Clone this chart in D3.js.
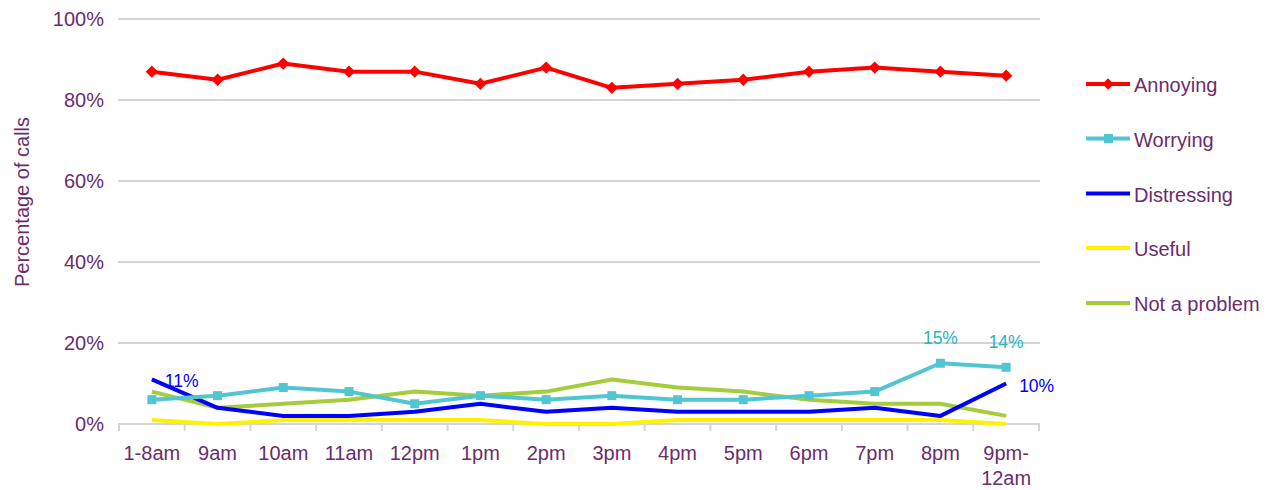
<!DOCTYPE html>
<html>
<head>
<meta charset="utf-8">
<script src="https://cdn.jsdelivr.net/npm/d3@7"></script>
<style>
  html, body { margin: 0; padding: 0; background: #fff; }
  svg { display: block; font-family: "Liberation Sans", Arial, sans-serif; }
</style>
</head>
<body>
<svg id="chart" width="1278" height="490"></svg>
<script>
// Time-of-day categories
const categories = ["1-8am", "9am", "10am", "11am", "12pm", "1pm", "2pm", "3pm", "4pm", "5pm", "6pm", "7pm", "8pm", "9pm-12am"];

// Percentage of calls by reaction
const annoying      = [87, 85, 89, 87, 87, 84, 88, 83, 84, 85, 87, 88, 87, 86];
const worrying      = [6, 7, 9, 8, 5, 7, 6, 7, 6, 6, 7, 8, 15, 14];
const distressing   = [11, 4, 2, 2, 3, 5, 3, 4, 3, 3, 3, 4, 2, 10];
const useful        = [1, 0, 1, 1, 1, 1, 0, 0, 1, 1, 1, 1, 1, 0];
const notAProblem   = [8, 4, 5, 6, 8, 7, 8, 11, 9, 8, 6, 5, 5, 2];

const yTicks = [0, 20, 40, 60, 80, 100];

const textColor = "#6B2C6E";
const gridColor = "#D4D4D4";

const series = [
  { name: "Annoying",      values: annoying,    color: "#FF0000", labelColor: "#FF0000", marker: "diamond" },
  { name: "Worrying",      values: worrying,    color: "#52C5D2", labelColor: "#2CB3C3", marker: "square" },
  { name: "Distressing",   values: distressing, color: "#0000FF", labelColor: "#0000FF", marker: null },
  { name: "Useful",        values: useful,      color: "#FFF200", labelColor: "#FFF200", marker: null },
  { name: "Not a problem", values: notAProblem, color: "#A4CC3C", labelColor: "#A4CC3C", marker: null }
];

// Values that carry a printed label: [series index, category index, placement]
const labelled = [
  { s: 2, i: 0,  pos: "right" },
  { s: 1, i: 12, pos: "above" },
  { s: 1, i: 13, pos: "above" },
  { s: 2, i: 13, pos: "right" }
];

const svg = d3.select("#chart");

const x = d3.scaleBand().domain(categories).range([119, 1039]).paddingInner(0).paddingOuter(0);
const y = d3.scaleLinear().domain([0, 100]).range([424, 19]);
const cx = c => x(c) + x.bandwidth() / 2;

// Horizontal gridlines
svg.append("g").selectAll("line").data(yTicks).join("line")
  .attr("x1", 118).attr("x2", 1040)
  .attr("y1", d => y(d)).attr("y2", d => y(d))
  .attr("stroke", gridColor).attr("stroke-width", 2);

// Y-axis tick labels
svg.append("g").selectAll("text").data(yTicks).join("text")
  .attr("x", 104).attr("y", d => y(d))
  .attr("text-anchor", "end").attr("dominant-baseline", "central")
  .attr("font-size", 20).attr("fill", textColor)
  .text(d => d + "%");

// Y-axis title
svg.append("text")
  .attr("transform", "translate(22,202) rotate(-90)")
  .attr("text-anchor", "middle").attr("dominant-baseline", "central")
  .attr("font-size", 20).attr("fill", textColor)
  .text("Percentage of calls");

// X-axis tick marks at category boundaries
const bounds = categories.map(c => x(c)).concat([x(categories[categories.length - 1]) + x.bandwidth()]);
svg.append("g").selectAll("line").data(bounds).join("line")
  .attr("x1", d => d).attr("x2", d => d)
  .attr("y1", y(0)).attr("y2", y(0) + 7)
  .attr("stroke", gridColor).attr("stroke-width", 2);

// X-axis category labels (split on the hyphen for the last one)
const xl = svg.append("g").selectAll("text").data(categories).join("text")
  .attr("x", d => cx(d)).attr("y", 460)
  .attr("text-anchor", "middle")
  .attr("font-size", 20).attr("fill", textColor);
xl.each(function(d) {
  const t = d3.select(this);
  if (d === "9pm-12am") {
    t.append("tspan").attr("x", cx(d)).attr("dy", 0).text("9pm-");
    t.append("tspan").attr("x", cx(d)).attr("dy", 25).text("12am");
  } else {
    t.text(d);
  }
});

// Lines, drawn from the bottom of the legend upward so the key series sit on top
const line = d3.line().x((v, i) => cx(categories[i])).y(v => y(v));
const drawOrder = [4, 3, 2, 1, 0];
drawOrder.forEach(si => {
  const s = series[si];
  svg.append("path")
    .datum(s.values)
    .attr("d", line)
    .attr("fill", "none")
    .attr("stroke", s.color)
    .attr("stroke-width", 4)
    .attr("stroke-linejoin", "round");
  if (s.marker === "diamond") {
    svg.append("g").selectAll("path").data(s.values).join("path")
      .attr("d", d3.symbol(d3.symbolSquare, 76))
      .attr("transform", (v, i) => `translate(${cx(categories[i])},${y(v)}) rotate(45)`)
      .attr("fill", s.color);
  } else if (s.marker === "square") {
    svg.append("g").selectAll("rect").data(s.values).join("rect")
      .attr("x", (v, i) => cx(categories[i]) - 4.5)
      .attr("y", v => y(v) - 4.5)
      .attr("width", 9).attr("height", 9)
      .attr("fill", s.color);
  }
});

// Value labels
svg.append("g").selectAll("text").data(labelled).join("text")
  .attr("x", d => d.pos === "right" ? cx(categories[d.i]) + 13 : cx(categories[d.i]))
  .attr("y", d => d.pos === "right" ? y(series[d.s].values[d.i]) + 2 : y(series[d.s].values[d.i]) - 25)
  .attr("text-anchor", d => d.pos === "right" ? "start" : "middle")
  .attr("dominant-baseline", "central")
  .attr("font-size", 17.5)
  .attr("fill", d => series[d.s].labelColor)
  .text(d => series[d.s].values[d.i] + "%");

// Legend
const legendY = [84, 138.5, 193.5, 248, 303];
const lg = svg.append("g").selectAll("g").data(series).join("g")
  .attr("transform", (d, i) => `translate(1086,${legendY[i]})`);
lg.append("line")
  .attr("x1", 0).attr("x2", 44).attr("y1", 0).attr("y2", 0)
  .attr("stroke", d => d.color).attr("stroke-width", 4);
lg.filter(d => d.marker === "diamond").append("path")
  .attr("d", d3.symbol(d3.symbolSquare, 64))
  .attr("transform", "translate(22,0) rotate(45)")
  .attr("fill", d => d.color);
lg.filter(d => d.marker === "square").append("rect")
  .attr("x", 18).attr("y", -4.5).attr("width", 9).attr("height", 9)
  .attr("fill", d => d.color);
lg.append("text")
  .attr("x", 48).attr("y", 1)
  .attr("dominant-baseline", "central")
  .attr("font-size", 20).attr("fill", textColor)
  .text(d => d.name);
</script>
</body>
</html>
